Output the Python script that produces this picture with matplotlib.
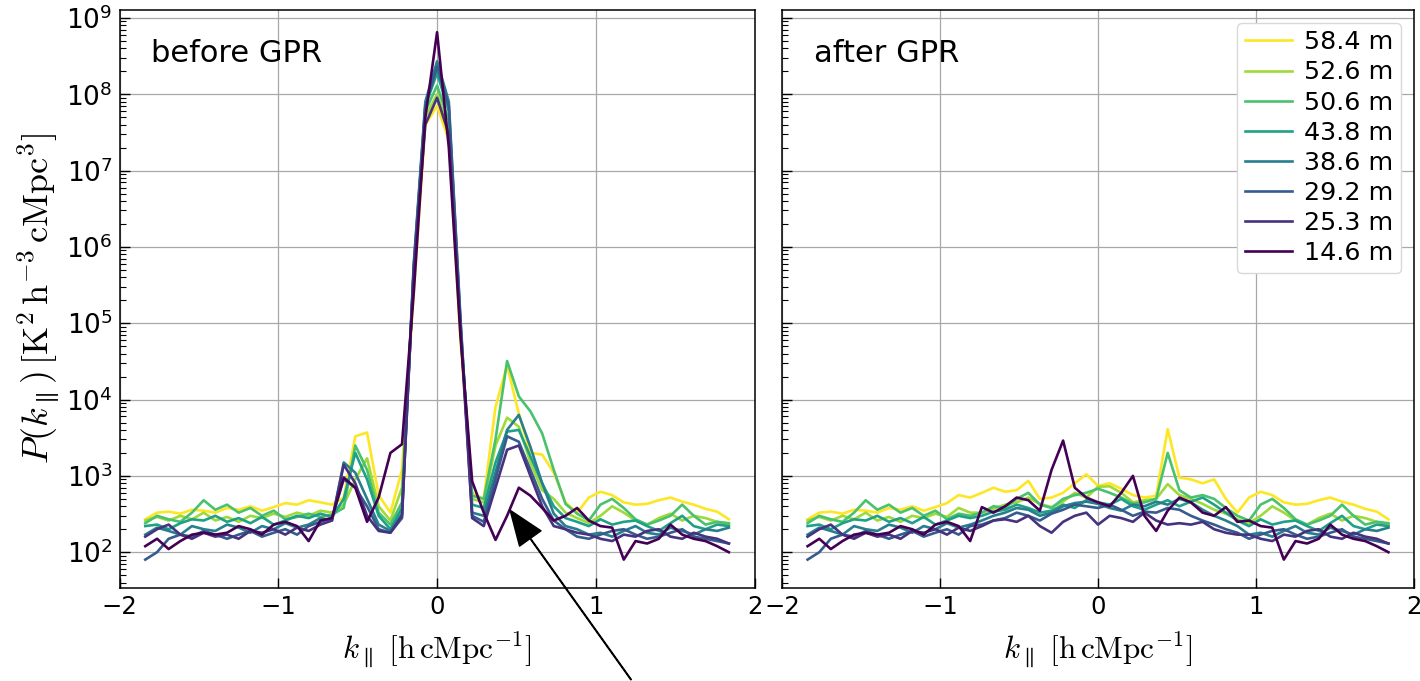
import numpy as np
import matplotlib
matplotlib.use("Agg")
import matplotlib.pyplot as plt

# k_parallel grid [h cMpc^-1]
k_par = [-1.838, -1.764, -1.691, -1.617, -1.544, -1.470, -1.397, -1.323, -1.250,
         -1.176, -1.103, -1.029, -0.956, -0.882, -0.809, -0.735, -0.662, -0.588,
         -0.515, -0.441, -0.368, -0.294, -0.221, -0.147, -0.074, 0.000, 0.074,
         0.147, 0.221, 0.294, 0.368, 0.441, 0.515, 0.588, 0.662, 0.735, 0.809,
         0.882, 0.956, 1.029, 1.103, 1.176, 1.250, 1.323, 1.397, 1.470, 1.544,
         1.617, 1.691, 1.764, 1.838]

baselines = ["58.4 m", "52.6 m", "50.6 m", "43.8 m", "38.6 m", "29.2 m", "25.3 m", "14.6 m"]

# P(k_par) before GPR foreground removal
p58_before = [270, 330, 340, 320, 360, 350, 330, 380, 360, 400, 350, 390, 440, 420, 480, 450, 420,
              520, 3300, 3700, 560, 330, 1200,
              2.5e5, 4.0e7, 7.0e7, 2.5e7, 6.0e4,
              600, 500, 8000, 28000, 6500, 2000, 1900, 1100, 450,
              330, 520, 620, 560, 450, 420, 430, 480, 520, 460, 420, 370, 340, 270]
p52_before = [260, 290, 260, 300, 270, 330, 260, 290, 250, 300, 280, 320, 290, 330, 300, 350, 330,
              420, 900, 1700, 400, 260, 700,
              4.0e5, 5.0e7, 1.0e8, 3.5e7, 8.0e4,
              500, 450, 2500, 5800, 4400, 1500, 650, 500, 330,
              280, 240, 300, 400, 330, 260, 230, 280, 320, 260, 300, 280, 250, 230]
p50_before = [240, 300, 270, 250, 330, 480, 360, 420, 330, 380, 300, 350, 270, 290, 320, 290, 310,
              380, 2500, 1200, 330, 230, 450,
              4.5e5, 6.0e7, 1.3e8, 4.5e7, 9.0e4,
              550, 500, 3000, 32000, 11000, 7000, 3600, 1200, 430,
              320, 260, 420, 500, 380, 270, 230, 260, 300, 420, 300, 230, 250, 240]
p43_before = [220, 230, 200, 240, 270, 260, 300, 250, 280, 240, 290, 230, 260, 300, 280, 320, 290,
              500, 2000, 900, 300, 200, 380,
              5.0e5, 7.0e7, 1.9e8, 6.0e7, 1.0e5,
              420, 380, 1500, 3800, 4000, 1800, 800, 400, 280,
              250, 220, 270, 230, 250, 260, 220, 190, 240, 300, 220, 200, 230, 220]
p38_before = [170, 210, 190, 170, 220, 200, 190, 230, 210, 180, 220, 200, 240, 210, 230, 280, 260,
              1500, 1100, 500, 230, 190, 320,
              6.0e5, 8.0e7, 2.7e8, 8.0e7, 1.2e5,
              330, 300, 1100, 4000, 6300, 2400, 800, 320, 220,
              200, 170, 180, 160, 190, 220, 180, 170, 210, 190, 170, 200, 190, 210]
p29_before = [80, 100, 150, 170, 160, 190, 170, 150, 170, 190, 160, 180, 200, 170, 220, 250, 280,
              900, 700, 400, 200, 180, 280,
              5.5e5, 7.0e7, 2.3e8, 7.0e7, 1.1e5,
              300, 250, 900, 3300, 2800, 1200, 500, 260, 200,
              160, 150, 170, 190, 200, 170, 150, 160, 180, 200, 160, 150, 140, 130]
p25_before = [160, 200, 230, 170, 150, 180, 160, 170, 150, 190, 180, 200, 170, 210, 190, 230, 260,
              1400, 800, 300, 190, 180, 300,
              5.0e5, 4.0e7, 9.0e7, 3.0e7, 9.0e4,
              280, 220, 700, 2200, 2500, 1000, 400, 220, 200,
              180, 170, 150, 140, 170, 160, 190, 200, 160, 150, 180, 160, 150, 130]
p14_before = [120, 150, 110, 140, 170, 180, 170, 180, 220, 200, 170, 230, 250, 220, 140, 260, 280,
              950, 700, 250, 520, 2000, 2600,
              2.5e5, 5.0e7, 6.5e8, 2.0e7, 7.0e4,
              850, 330, 145, 300, 700, 550, 380, 260, 300,
              380, 260, 220, 210, 80, 140, 130, 150, 230, 170, 150, 140, 120, 100]

# P(k_par) after GPR foreground removal
p58_after = [270, 330, 340, 320, 360, 350, 330, 380, 360, 400, 350, 390, 440,
             560, 520, 600, 700, 620, 650, 860, 500, 520, 600, 800, 1050, 740,
             800, 680, 560, 520, 550, 4100, 950, 900, 800, 900, 500, 330,
             520, 620, 560, 450, 420, 430, 480, 520, 460, 420, 370, 340, 270]
p52_after = [260, 290, 260, 300, 270, 330, 260, 290, 250, 300, 280, 320, 290,
             380, 330, 330, 370, 420, 450, 520, 430, 390, 460, 600, 520, 720,
             730, 600, 450, 480, 500, 780, 560, 500, 430, 360, 320, 270,
             240, 300, 400, 330, 260, 230, 280, 320, 260, 300, 280, 250, 230]
p50_after = [240, 300, 270, 250, 330, 480, 360, 420, 330, 380, 300, 350, 270,
             320, 300, 330, 400, 380, 500, 600, 420, 380, 500, 560, 600, 680,
             600, 520, 430, 450, 500, 2000, 650, 520, 560, 500, 380, 300,
             260, 420, 500, 380, 270, 230, 260, 300, 420, 300, 230, 250, 240]
p43_after = [220, 230, 200, 240, 270, 260, 300, 250, 280, 240, 290, 230, 260,
             300, 280, 300, 340, 360, 420, 380, 330, 350, 420, 380, 480, 450,
             420, 500, 400, 360, 420, 480, 400, 460, 520, 420, 330, 260,
             220, 270, 230, 250, 260, 220, 190, 240, 300, 220, 200, 230, 220]
p38_after = [170, 210, 190, 170, 220, 200, 190, 230, 210, 180, 220, 200, 240,
             210, 230, 260, 300, 330, 380, 360, 300, 330, 400, 440, 460, 430,
             380, 350, 420, 400, 460, 420, 500, 450, 360, 300, 260, 220,
             170, 180, 160, 190, 220, 180, 170, 210, 190, 170, 200, 190, 210]
p29_after = [80, 100, 150, 170, 160, 190, 170, 150, 170, 190, 160, 180, 200,
             170, 220, 230, 260, 280, 330, 300, 260, 320, 360, 420, 400, 380,
             420, 360, 300, 340, 330, 380, 360, 300, 260, 230, 200, 180,
             150, 170, 190, 200, 170, 150, 160, 180, 200, 160, 150, 140, 130]
p25_after = [160, 200, 230, 170, 150, 180, 160, 170, 150, 190, 180, 200, 170,
             210, 190, 220, 260, 270, 250, 300, 220, 180, 250, 300, 330, 230,
             300, 280, 250, 330, 260, 230, 240, 230, 250, 200, 180, 170,
             170, 150, 140, 170, 160, 190, 200, 160, 150, 180, 160, 150, 130]
p14_after = [120, 150, 110, 140, 170, 180, 170, 180, 220, 200, 170, 230, 250,
             220, 140, 390, 330, 400, 520, 480, 350, 1200, 2900, 700, 520, 450,
             400, 600, 1000, 300, 190, 350, 520, 450, 330, 300, 390, 250,
             260, 220, 210, 80, 140, 130, 150, 230, 170, 150, 140, 120, 100]

before = [p58_before, p52_before, p50_before, p43_before,
          p38_before, p29_before, p25_before, p14_before]
after = [p58_after, p52_after, p50_after, p43_after,
         p38_after, p29_after, p25_after, p14_after]

colors = plt.cm.viridis(np.linspace(1, 0, len(baselines)))

fig = plt.figure(figsize=(14.2, 6.81), dpi=100)
ax1 = fig.add_axes([0.0842, 0.1366, 0.4472, 0.8487])
ax2 = fig.add_axes([0.5507, 0.1366, 0.4451, 0.8487], sharey=ax1)

for ax, series, title in ((ax1, before, "before GPR"), (ax2, after, "after GPR")):
    for vals, col, lab in zip(series, colors, baselines):
        ax.plot(k_par, vals, color=col, lw=1.9, label=lab)
    ax.set_yscale("log")
    ax.set_xlim(-2, 2)
    ax.set_ylim(34, 1.27e9)
    ax.set_xticks([-2, -1, 0, 1, 2])
    ax.grid(True, which="major", color="0.66", lw=0.9)
    ax.tick_params(which="both", direction="in")
    ax.tick_params(axis="y", labelsize=19)
    ax.tick_params(axis="x", labelsize=17.5)
    ax.tick_params(which="major", length=7, width=1, pad=5)
    ax.tick_params(which="minor", length=4, width=0.8)
    for sp in ax.spines.values():
        sp.set_linewidth(1.1)
    ax.text(0.05, 0.925, title, transform=ax.transAxes, fontsize=22,
            ha="left", va="center")
    ax.set_xlabel(r"$k_\parallel\ [\mathrm{h\,cMpc^{-1}}]$", fontsize=22.5,
                  math_fontfamily="cm", labelpad=7)

ax1.set_ylabel(r"$P(k_\parallel)\,[\mathrm{K^2\,h^{-3}\,cMpc^3}]$", fontsize=26,
               math_fontfamily="cm", labelpad=3)
plt.setp(ax2.get_yticklabels(), visible=False)

ax2.legend(loc="upper right", fontsize=18.3, labelspacing=0.24, handlelength=1.85,
           handletextpad=0.5, framealpha=1, edgecolor="0.85", borderpad=0.3)

ax1.annotate("", xy=(0.46, 355), xycoords="data",
             xytext=(0.4444, 0.002), textcoords="figure fraction",
             arrowprops=dict(facecolor="black", edgecolor="black", width=0.5,
                             headwidth=19, headlength=25, shrink=0),
             annotation_clip=False)

fig.savefig("out.png", dpi=100)
